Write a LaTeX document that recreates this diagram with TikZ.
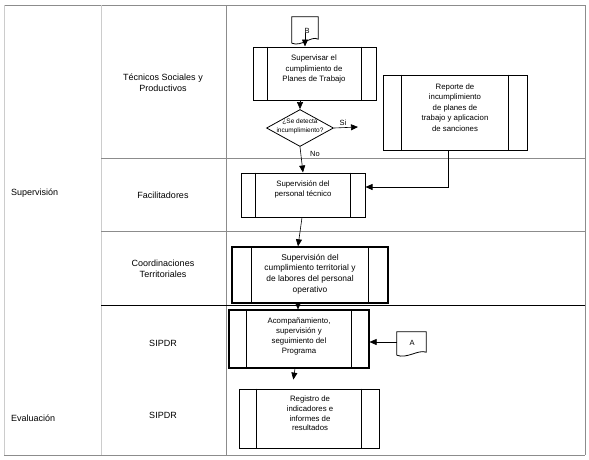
\documentclass[tikz,border=0pt]{standalone}
\usepackage{fontspec}
\setmainfont{Liberation Sans}
\usetikzlibrary{shapes.geometric,arrows.meta,calc}
\definecolor{gridgray}{HTML}{8C8C8C}
\definecolor{lightgrid}{HTML}{CCCCCC}
\newcommand{\vsides}[3]{\draw[line width=#3] ([xshift=#2pt]#1.north west) -- ([xshift=#2pt]#1.south west) ([xshift=-#2pt]#1.north east) -- ([xshift=-#2pt]#1.south east);}
\begin{document}
\begin{tikzpicture}[x=1pt,y=-1pt,
  lane/.style={font=\fontsize{9}{11}\selectfont, align=center, inner sep=0pt},
  proc/.style={draw, line width=1pt, rectangle, inner sep=0pt},
  ptext/.style={font=\fontsize{7.8}{10.5}\selectfont, align=center, inner sep=0pt},
  arr/.style={-{Triangle[length=7pt,width=6pt]}, line width=0.6pt},
  docbox/.style={rectangle, inner sep=0pt, font=\fontsize{7.5}{9}\selectfont}
]
\useasboundingbox (0,0) rectangle (589,459);

% grid
\draw[gridgray, line width=0.8pt] (4,5) -- (585,5);
\draw[gridgray, line width=0.8pt] (4,455) -- (585,455);
\draw[lightgrid, line width=0.8pt] (4,5) -- (4,455);
\draw[gridgray, line width=0.8pt] (585,5) -- (585,455);
\draw[lightgrid, line width=0.8pt] (101,5) -- (101,455);
\draw[gridgray, line width=0.8pt] (226,5) -- (226,455);
\draw[gridgray, line width=0.8pt] (101,158) -- (585,158);
\draw[gridgray, line width=0.8pt] (101,231) -- (585,231);
\draw[black, line width=0.8pt] (101,305) -- (585,305);

% lane labels
\node[lane, anchor=west] (lsup) at (11,193) {Supervisión};
\node[lane, anchor=west] (leva) at (11,418) {Evaluación};
\node[lane] (ltec) at (163,82.5) {Técnicos Sociales y\\Productivos};
\node[lane] (lfac) at (163,195) {Facilitadores};
\node[lane] (lcoo) at (163,268.5) {Coordinaciones\\Territoriales};
\node[lane] (lsip) at (163,343) {SIPDR};
\node[lane] (lsip2) at (163,415) {SIPDR};

% document B
\node[docbox, minimum width=26pt, minimum height=24pt] (B) at (305,29) {};
\node[docbox] (Bt) at (307,31) {B};
\draw[line width=0.8pt] ($(B.south west)+(0,2)$) -- (B.north west) -- (B.north east) -- ($(B.south east)+(0,-2)$)
  .. controls +(-7,-4) and +(10,4) .. ($(B.south west)+(0,2)$);

% process boxes
\node[proc, minimum width=123pt, minimum height=53pt] (sup) at (314.5,73.5) {};
\vsides{sup}{15}{1pt}
\node[ptext] (supT) at (314,69) {Supervisar el\\cumplimiento de\\Planes de Trabajo};

\node[diamond, draw, line width=0.8pt, minimum width=67pt, minimum height=37pt, inner sep=0pt] (dia) at (300,128) {};
\node[font=\fontsize{6.5}{8.5}\selectfont, align=center, inner sep=0pt] (diaT) at (300,126.5) {¿Se detecta\\incumplimiento?};

\node[proc, minimum width=144pt, minimum height=75pt] (rep) at (455,112.5) {};
\vsides{rep}{19}{1pt}
\node[ptext] (repT) at (455,107.5) {Reporte de\\incumplimiento\\de planes de\\trabajo y aplicacion\\de sanciones};

\node[proc, minimum width=124pt, minimum height=44pt] (fac) at (303,195) {};
\vsides{fac}{15}{1pt}
\node[ptext] (facT) at (303,189.5) {Supervisión del\\personal técnico};

\node[proc, line width=1.4pt, minimum width=156pt, minimum height=56pt] (coo) at (310,275) {};
\vsides{coo}{20}{1pt}
\node[ptext, font=\fontsize{8.4}{10.7}\selectfont] (cooT) at (310,274) {Supervisión del\\cumplimiento territorial y\\de labores del personal\\operativo};

\node[proc, line width=1.1pt, minimum width=140pt, minimum height=58pt] (sip) at (299,339) {};
\vsides{sip}{18}{1pt}
\node[ptext, font=\fontsize{7.8}{9.8}\selectfont] (sipT) at (299,336.5) {Acompañamiento,\\supervisión y\\seguimiento del\\Programa};

\node[proc, minimum width=140pt, minimum height=59pt] (reg) at (309,418.5) {};
\vsides{reg}{18}{1pt}
\node[ptext, font=\fontsize{7.8}{9.8}\selectfont] (regT) at (310,413.5) {Registro de\\indicadores e\\informes de\\resultados};

% document A
\node[docbox, minimum width=29pt, minimum height=20pt] (A) at (411.5,342) {};
\node[docbox] (At) at (412,343) {A};
\draw[line width=0.8pt] ($(A.south west)+(0,3)$) -- (A.north west) -- (A.north east) -- (A.south east)
  .. controls +(-8,-3) and +(10,4) .. ($(A.south west)+(0,3)$);

% labels
\node[font=\fontsize{7.5}{9}\selectfont, inner sep=0pt] (si) at (343,123) {Si};
\node[font=\fontsize{7.5}{9}\selectfont, inner sep=0pt] (no) at (315,154) {No};
\coordinate (siend) at (358,127);

% connectors
\draw[arr] ($(B.south)+(0,-8)$) -- (B.south |- sup.north);
\draw[arr] (dia.north |- sup.south) -- (dia.north);
\draw[arr] (dia.east) -- (siend);
\draw[arr] (dia.south) -- (fac.north);
\draw[arr] ([xshift=-7pt]rep.south) |- ([yshift=8pt]fac.east);
\draw[arr] ([xshift=-1pt]fac.south) -- ([xshift=-12pt]coo.north);
\draw[arr] ([xshift=-12pt]coo.south) -- ([xshift=-1pt]sip.north);
\draw[arr] (A.west) -- (A.west -| sip.east);
\draw[arr, shorten >=9pt] ([xshift=-4pt]sip.south) -- ([xshift=-17pt]reg.north);
\end{tikzpicture}
\end{document}
